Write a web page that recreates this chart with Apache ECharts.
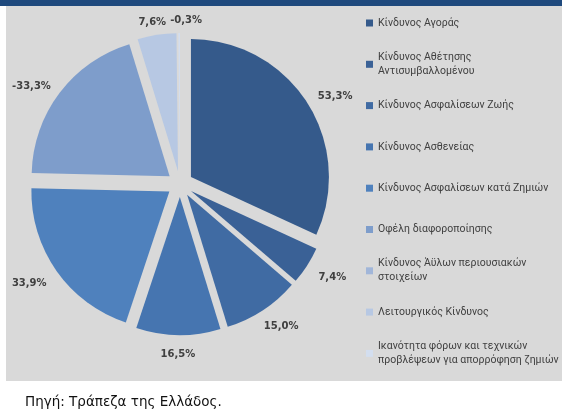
<!DOCTYPE html>
<html><head><meta charset="utf-8">
<script src="https://cdn.jsdelivr.net/npm/echarts@6/dist/echarts.min.js"></script>
<style>html,body{margin:0;padding:0;background:#fff}#c{width:562px;height:412px}</style>
</head><body><div id="c"></div>
<script>
const categories = [
  'Κίνδυνος Αγοράς',
  'Κίνδυνος Αθέτησης\nΑντισυμβαλλομένου',
  'Κίνδυνος Ασφαλίσεων Ζωής',
  'Κίνδυνος Ασθενείας',
  'Κίνδυνος Ασφαλίσεων κατά Ζημιών',
  'Οφέλη διαφοροποίησης',
  'Κίνδυνος Άϋλων περιουσιακών\nστοιχείων',
  'Λειτουργικός Κίνδυνος',
  'Ικανότητα φόρων και τεχνικών\nπροβλέψεων για απορρόφηση ζημιών'
];
const values = [53.3, 7.4, 15.0, 16.5, 33.9, -33.3, 0, 7.6, -0.3];
const colors = ['#355A8B','#3A6196','#406BA3','#4675B0','#4F81BD','#7E9DCB','#A1B6D9','#B7C8E3','#D3DEEF'];
const sourceText = 'Πηγή: Τράπεζα της Ελλάδος.';

const CX = 180, CY = 184, R = 138, OFF = 13, GAP_X = 16, GAP_Y = 11, LABEL_DY = 3;
const total = values.reduce((s, v) => s + Math.abs(v), 0);
const placed = [];
function fmt(v) { return v.toFixed(1).replace('.', ',') + '%'; }

function labelLayout(p) {
  const i = p.dataIndex;
  let before = 0;
  for (let k = 0; k < i; k++) before += Math.abs(values[k]);
  const mid = (before + Math.abs(values[i]) / 2) / total * 2 * Math.PI;
  const ux = Math.sin(mid), uy = -Math.cos(mid);
  const hw = p.labelRect.width / 2, hh = p.labelRect.height / 2;
  let x = CX + ux * (R + OFF + GAP_X + hw);
  let y = CY + LABEL_DY + uy * (R + OFF + GAP_Y + hh);
  for (let k = 0; k < i; k++) {
    const q = placed[k];
    if (!q) continue;
    if (Math.abs(q.y - y) < q.hh + hh && Math.abs(q.x - x) < q.hw + hw + 4) {
      const s = x >= q.x ? 1 : -1;
      x = q.x + s * (q.hw + hw + 4);
    }
  }
  placed[i] = {x, y, hw, hh};
  return {x, y, align: 'center', verticalAlign: 'middle'};
}

const LH = 14, legendTop0 = 23, legendStep = 41.3;
const legends = categories.map((name, i) => {
  const lines = name.split('\n').length;
  const yc = legendTop0 + i * legendStep;
  return {
    orient: 'vertical', left: 366, top: yc - (2 * lines - 1) * LH / 2,
    padding: 0, itemWidth: 7, itemHeight: 7, icon: 'rect', selectedMode: false,
    data: [name],
    textStyle: {fontFamily: 'Roboto', fontSize: 10.5, color: '#404040', lineHeight: LH,
      padding: [(lines - 1) * LH, 0, 0, 0], backgroundColor: 'rgba(0,0,0,0)'}
  };
});

const pieData = categories.map((name, i) => ({
  name: name,
  value: Math.abs(values[i]),
  selected: true,
  itemStyle: {color: colors[i]}
}));
const labelData = categories.map((name, i) => ({
  name: name,
  value: Math.abs(values[i]),
  label: {show: values[i] !== 0}
}));

const chart = echarts.init(document.getElementById('c'), null, {renderer: 'canvas'});
chart.setOption({
  animation: false,
  backgroundColor: '#ffffff',
  graphic: [
    {type: 'rect', z: -10, shape: {x: 0, y: 0, width: 562, height: 6}, style: {fill: '#1F497D'}},
    {type: 'rect', z: -10, shape: {x: 6, y: 6, width: 556, height: 375}, style: {fill: '#D9D9D9'}},
    {type: 'text', left: 25, top: 395, style: {text: sourceText, font: '13.5px "DejaVu Sans"', fill: '#111'}}
  ],
  legend: legends,
  series: [{
    type: 'pie',
    center: [CX, CY],
    radius: R,
    startAngle: 90,
    clockwise: true,
    selectedMode: 'multiple',
    selectedOffset: OFF,
    emphasis: {scale: false},
    select: {itemStyle: {borderWidth: 0}},
    itemStyle: {borderWidth: 0},
    label: {show: false},
    labelLine: {show: false},
    data: pieData
  }, {
    type: 'pie',
    silent: true,
    center: [CX, CY],
    radius: R,
    startAngle: 90,
    clockwise: true,
    avoidLabelOverlap: false,
    selectedMode: false,
    emphasis: {disabled: true},
    itemStyle: {color: 'rgba(0,0,0,0)', borderWidth: 0},
    label: {
      show: true, position: 'outside',
      formatter: p => fmt(values[p.dataIndex]),
      fontFamily: 'DejaVu Sans', fontWeight: 'bold', fontSize: 10, color: '#404040'
    },
    labelLine: {show: false, length: 5, length2: 0},
    labelLayout: labelLayout,
    data: labelData
  }]
});
</script></body></html>
